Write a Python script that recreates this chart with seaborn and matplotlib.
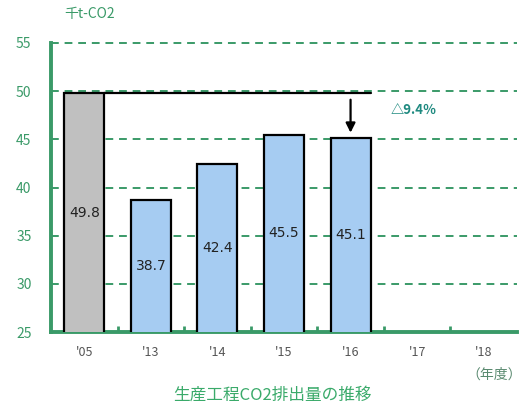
import matplotlib
matplotlib.use("Agg")
import matplotlib.pyplot as plt
import seaborn as sns
import pandas as pd
import numpy as np

years = ["'05", "'13", "'14", "'15", "'16", "'17", "'18"]
emissions = [49.8, 38.7, 42.4, 45.5, 45.1, np.nan, np.nan]
bar_colors = ["#c0c0c0", "#99ccff", "#99ccff", "#99ccff", "#99ccff", "#99ccff", "#99ccff"]
reduction_label = "△9.4％"
unit_label = "千t-CO2"
fy_label = "（年度）"
title = "生産工程CO2排出量の推移"

sns.set_theme(style="white")
plt.rcParams["font.family"] = ["Noto Sans CJK JP", "DejaVu Sans"]

green = "#3a9a68"
df = pd.DataFrame({"year": years, "value": emissions})

fig = plt.figure(figsize=(5.23, 4.09), dpi=100)
ax = fig.add_axes([0.0975, 0.188, 0.891, 0.707])

sns.barplot(data=df, x="year", y="value", hue="year", palette=bar_colors,
            legend=False, width=0.6, edgecolor="black", linewidth=1.6,
            ax=ax, zorder=3)

ax.set_ylim(25, 55)
ax.set_xlim(-0.5, len(years) - 0.5)
ax.set_yticks(range(25, 56, 5))
for v in range(30, 56, 5):
    ax.axhline(v, color=green, lw=1.4, ls=(0, (4, 3)), zorder=1, clip_on=False)

for s in ["top", "right"]:
    ax.spines[s].set_visible(False)
for s in ["left", "bottom"]:
    ax.spines[s].set_color(green)
    ax.spines[s].set_linewidth(2.8)

ax.tick_params(axis="y", direction="in", length=4, width=2, color=green,
               labelcolor=green, labelsize=10, pad=14)
ax.tick_params(axis="x", length=0, labelcolor="#555555", labelsize=9, pad=10)
ax.set_xticks(np.arange(0.5, len(years) - 0.5), minor=True)
ax.tick_params(axis="x", which="minor", direction="in", length=4, width=2,
               color=green, bottom=True)
ax.set_xlabel("")
ax.set_ylabel("")

# value labels in the middle of each bar
for i, v in enumerate(emissions):
    if not np.isnan(v):
        ax.text(i, (25 + v) / 2, f"{v}", ha="center", va="center",
                fontsize=10, color="#222222", family="DejaVu Sans", zorder=4)

# base-year reference line and reduction arrow
ax.plot([0.3, 4.3], [emissions[0], emissions[0]], color="black", lw=1.6, zorder=4)
ax.annotate("", xy=(4, emissions[4] + 0.3), xytext=(4, emissions[0] - 0.4),
            arrowprops=dict(arrowstyle="-|>", color="black", lw=1.6,
                            mutation_scale=14), zorder=4)
ax.text(4.6, 47.9, reduction_label, color="#1f8a80", fontsize=9.5,
        fontweight="bold", ha="left", va="center",
        family=["Noto Sans CJK JP", "DejaVu Sans"])

fig.text(0.123, 0.965, unit_label, color=green, fontsize=10, ha="left", va="center")
fig.text(0.997, 0.083, fy_label, color="#5a8a70", fontsize=10, ha="right", va="center")
fig.text(0.52, 0.035, title, color="#3aaa6a", fontsize=12, ha="center", va="center")

fig.savefig("out.png", dpi=100)
